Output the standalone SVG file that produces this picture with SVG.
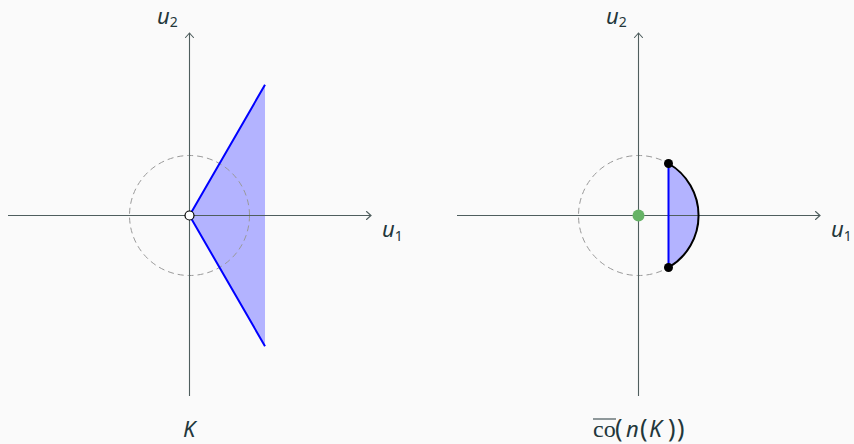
<svg xmlns="http://www.w3.org/2000/svg" width="854" height="444" viewBox="0 0 854 444">
<defs>
<marker id="to" markerUnits="userSpaceOnUse" markerWidth="12" markerHeight="12" viewBox="-6 -6 12 12" refX="0" refY="0" orient="auto">
<path d="M -4.5,-4 Q -1.2,-1 0,0 Q -1.2,1 -4.5,4" fill="none" stroke="#4f5e5e" stroke-width="1.1" stroke-linecap="round"/>
</marker>
<style>
.axis{stroke:#4f5e5e;stroke-width:1.1;fill:none}
.unit{fill:none;stroke:#999;stroke-width:1;stroke-dasharray:6 4}
.lbl{font-family:"Noto Sans","DejaVu Sans",sans-serif;font-style:italic;font-size:22px;fill:#23373b}
.sub{font-style:normal;font-size:14px}
.up{font-style:normal;font-size:25px}
.region{fill:#b3b3ff;stroke:none}
.edge{stroke:#0000ff;stroke-width:2;fill:none}
</style>
</defs>
<rect width="854" height="444" fill="#fafafa"/>
<g id="left-region">
<polygon class="region" points="189.5,215.5 265,84.8 265,346.2"/>
</g>
<g id="right-region">
<path class="region" d="M 668.5,163.5 A 60,60 0 0 1 668.5,267.5 Z"/>
</g>
<g id="unit-circles">
<circle class="unit" cx="189.5" cy="215.5" r="60"/>
<circle class="unit" cx="638.5" cy="215.5" r="60"/>
</g>
<g id="connectors">
<line class="axis" x1="8" y1="215.5" x2="371" y2="215.5" marker-end="url(#to)"/>
<line class="axis" x1="189.5" y1="396" x2="189.5" y2="33" marker-end="url(#to)"/>
<line class="axis" x1="457" y1="215.5" x2="820" y2="215.5" marker-end="url(#to)"/>
<line class="axis" x1="638.5" y1="396" x2="638.5" y2="33" marker-end="url(#to)"/>
</g>
<g id="left-plot">
<polyline class="edge" points="265,84.8 189.5,215.5 265,346.2"/>
<circle cx="189.5" cy="215.5" r="4.5" fill="#fff" stroke="#000" stroke-width="1.2"/>
<text class="lbl" x="157" y="24">u<tspan class="sub" dy="3">2</tspan></text>
<text class="lbl" x="382" y="237">u<tspan class="sub" dy="4">1</tspan></text>
<text class="lbl" x="183" y="437" font-size="23px">K</text>
</g>
<g id="right-plot">
<path d="M 668.5,163.5 A 60,60 0 0 1 668.5,267.5" fill="none" stroke="#000" stroke-width="2"/>
<line class="edge" x1="668.5" y1="163.5" x2="668.5" y2="267.5"/>
<circle cx="668.5" cy="163.5" r="4.5" fill="#000"/>
<circle cx="668.5" cy="267.5" r="4.5" fill="#000"/>
<circle cx="638.5" cy="215.5" r="6" fill="#66b366"/>
<text class="lbl" x="606" y="24">u<tspan class="sub" dy="3">2</tspan></text>
<text class="lbl" x="831" y="237">u<tspan class="sub" dy="4">1</tspan></text>
<line x1="593" y1="419" x2="616" y2="419" stroke="#23373b" stroke-width="1"/>
<text class="lbl" y="437"><tspan x="593" font-family="Liberation Serif" font-style="normal" font-size="24px">co</tspan><tspan class="up" x="615">(</tspan><tspan x="626">n</tspan><tspan class="up" x="640">(</tspan><tspan x="649" font-size="23px">K</tspan><tspan class="up" x="668">)</tspan><tspan class="up" x="677">)</tspan></text>
</g>
</svg>
